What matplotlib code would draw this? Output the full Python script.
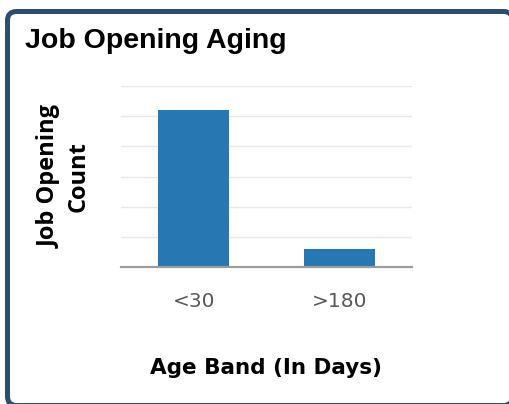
import matplotlib.pyplot as plt
from matplotlib.patches import FancyBboxPatch
from matplotlib.transforms import IdentityTransform

# job openings per age band
age_bands = ["<30", ">180"]
opening_counts = [26, 3]
grid_ticks = [0, 5, 10, 15, 20, 25, 30]

W, H = 510, 404
fig = plt.figure(figsize=(W / 100, H / 100), dpi=100)

# card frame in pixel units (origin bottom-left), right/bottom edges run off the image
card = FancyBboxPatch((7.5, -1.5), 505, 394,
                      boxstyle="round,pad=0,rounding_size=9",
                      transform=IdentityTransform(), facecolor="white",
                      edgecolor="#2c4d6c", linewidth=3.6, zorder=-5)
fig.patches.append(card)

fig.text(25 / W, 1 - 48 / H, "Job Opening Aging", fontsize=20.5,
         fontweight="bold", family="Liberation Sans", va="baseline", ha="left")

ax = fig.add_axes([121 / W, (H - 267) / H, 291 / W, 181 / H])
ax.patch.set_alpha(0)
ax.bar(range(len(age_bands)), opening_counts, width=0.49, color="#2778b2", zorder=3)

ax.set_xlim(-0.5, 1.5)
ax.set_ylim(0, grid_ticks[-1])
ax.set_yticks(grid_ticks)
ax.tick_params(axis="y", length=0, labelleft=False)
ax.grid(True, axis="y", color="#e5e9ed", linewidth=1, zorder=0)

ax.set_xticks(range(len(age_bands)))
ax.set_xticklabels(age_bands, fontsize=14.5, color="#585858", family="DejaVu Sans")
ax.tick_params(axis="x", length=0, pad=18)

for side in ["top", "right", "left"]:
    ax.spines[side].set_visible(False)
ax.spines["bottom"].set_color("#9c9c9c")
ax.spines["bottom"].set_linewidth(1.6)
ax.spines["bottom"].set_zorder(4)

fig.text(266 / W, 1 - 368 / H, "Age Band (In Days)", fontsize=15.5,
         fontweight="bold", family="DejaVu Sans", ha="center", va="center")
fig.text(64 / W, 1 - 177 / H, "Job Opening\nCount", fontsize=17,
         fontweight="bold", family="Open Sans", rotation=90,
         ha="center", va="center", multialignment="center", linespacing=1.3)

fig.savefig("out.png", dpi=100)
